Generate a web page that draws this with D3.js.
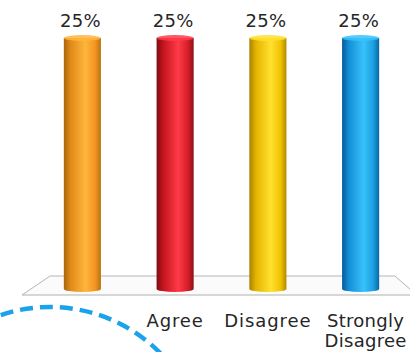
<!DOCTYPE html>
<html>
<head>
<meta charset="utf-8">
<script src="https://cdn.jsdelivr.net/npm/d3@7"></script>
<style>
  html, body { margin: 0; padding: 0; background: #fff; }
  svg { display: block; }
  text { font-family: "DejaVu Sans", sans-serif; fill: #262626; }
</style>
</head>
<body>
<svg id="chart" width="410" height="352"></svg>
<script>
const categories = ["", "Agree", "Disagree", "Strongly Disagree"];
const values = [25, 25, 25, 25];
const valueLabels = ["25%", "25%", "25%", "25%"];
const palettes = [
  ["#a9650c", "#e08a18", "#ffb53c", "#f29520", "#b8700f"],
  ["#7e0c12", "#c4141e", "#ff3b47", "#d51d28", "#8e0f16"],
  ["#a88200", "#e6b400", "#ffe12e", "#efc100", "#b08900"],
  ["#08599a", "#148ed6", "#38c2fa", "#1a9ee0", "#0a66a6"]
];

const W = 410, H = 352;
const svg = d3.select("#chart");
const defs = svg.append("defs");

const x = d3.scaleBand().domain(categories).range([36, 407]).paddingInner(0.6).paddingOuter(0.3);
const y = d3.scaleLinear().domain([0, 25]).range([289, 38]);

palettes.forEach((p, i) => {
  const g = defs.append("linearGradient").attr("id", "cyl" + i)
    .attr("x1", "0%").attr("x2", "100%").attr("y1", "0%").attr("y2", "0%");
  [0, 0.18, 0.58, 0.85, 1].forEach((o, k) => g.append("stop").attr("offset", o).attr("stop-color", p[k]));
});

// floor
const floorBackY = 276, floorFrontY = 295;
svg.append("path")
  .attr("d", `M22,${floorFrontY} L50,${floorBackY} L395,${floorBackY} L418,${floorFrontY - 2} L418,${floorFrontY} Z`)
  .attr("fill", "#fbfbfb").attr("stroke", "none");
svg.append("path")
  .attr("d", `M22,${floorFrontY} L50,${floorBackY} L395,${floorBackY} L412,291`)
  .attr("fill", "none").attr("stroke", "#b5b5b5").attr("stroke-width", 1);
svg.append("line").attr("x1", 22).attr("x2", 410).attr("y1", floorFrontY).attr("y2", floorFrontY)
  .attr("stroke", "#b0b0b0").attr("stroke-width", 1);

// cylinders
const ry = 3;
const bars = svg.append("g").selectAll("g").data(categories).join("g");
bars.each(function(c, i) {
  const g = d3.select(this);
  const x0 = x(c), w = x.bandwidth(), cx = x0 + w / 2, rx = w / 2;
  const yt = y(values[i]), yb = y(0);
  g.append("path")
    .attr("d", `M${x0},${yt} L${x0},${yb} A${rx},${ry} 0 0 0 ${x0 + w},${yb} L${x0 + w},${yt} Z`)
    .attr("fill", `url(#cyl${i})`);
  g.append("ellipse").attr("cx", cx).attr("cy", yt).attr("rx", rx).attr("ry", ry)
    .attr("fill", palettes[i][2]).attr("opacity", 0.85);
  g.append("text").attr("x", cx - 2).attr("y", 27).attr("text-anchor", "middle")
    .attr("font-size", 18).attr("letter-spacing", 0.3).text(valueLabels[i]);
});

// category labels
categories.forEach((c, i) => {
  if (!c) return;
  const words = c.split(" ");
  const multi = words.length > 1;
  const t = svg.append("text").attr("text-anchor", "middle").attr("font-size", 18)
    .attr("letter-spacing", multi ? 0.3 : 0.9);
  const cx = x(c) + x.bandwidth() / 2 + (multi ? 5 : 0);
  words.forEach((wd, k) => {
    t.append("tspan").attr("x", cx).attr("y", 327 + k * 20).text(wd);
  });
});

// decorative dashed circle
svg.append("circle").attr("cx", 50).attr("cy", 462).attr("r", 155)
  .attr("fill", "#fff").attr("stroke", "#1aa3ea").attr("stroke-width", 4.5)
  .attr("stroke-dasharray", "13,7");
</script>
</body>
</html>
